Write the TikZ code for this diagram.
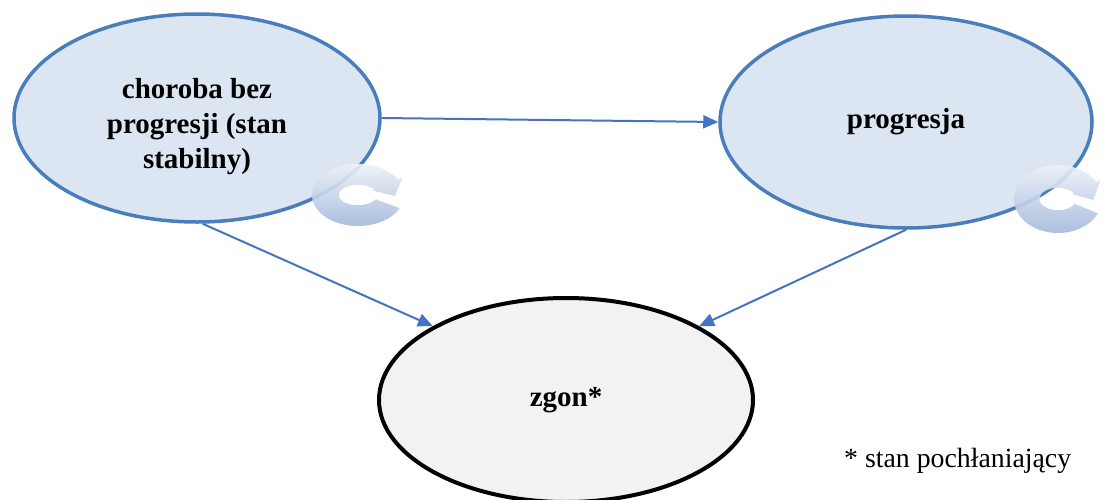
\documentclass[tikz,border=0pt]{standalone}
\usepackage{fontspec}
\setmainfont{Liberation Serif}
\usetikzlibrary{shapes.geometric,arrows.meta}

\definecolor{stateblue}{HTML}{DCE6F2}
\definecolor{stateedge}{HTML}{4A7EBB}
\definecolor{linkblue}{HTML}{4472C4}
\definecolor{absorbfill}{HTML}{F2F2F2}
\definecolor{ringlight}{HTML}{F2F5FA}
\definecolor{ringdark}{HTML}{9DB4D8}

\tikzset{
  state/.style={ellipse, draw=stateedge, line width=3.5pt, fill=stateblue,
    inner sep=0pt, minimum width=366pt, minimum height=208pt,
    font=\fontsize{29}{35}\selectfont\bfseries, align=center},
  absorbing/.style={state, draw=black, line width=4pt, fill=absorbfill,
    minimum width=374pt, minimum height=204pt},
  statetext/.style={font=\fontsize{29}{35}\selectfont\bfseries, align=center, inner sep=0pt},
  link/.style={draw=linkblue, line width=2pt,
    -{Triangle[length=15pt,width=13pt]}},
  note/.style={font=\fontsize{27.8}{33}\selectfont, inner sep=0pt},
  cycle icon/.pic={
    \shade[top color=ringlight, bottom color=ringdark, opacity=0.9]
      (25:1) arc[start angle=25, end angle=330, radius=1]
      -- (330:1.12) -- (2:0.8) -- (330:0.35 and 0.3)
      -- (330:0.42 and 0.33)
      arc[start angle=330, end angle=25, x radius=0.42, y radius=0.33]
      -- cycle;
  }
}

\begin{document}
\begin{tikzpicture}[x=1pt, y=-1pt]
  \useasboundingbox (0,0) rectangle (1104,499);
  \clip (0,0) rectangle (1104,499);

  % states
  \node[state] (L) at (197,118) {};
  \node[statetext] (Ltext) at (197,127) {choroba bez\\progresji (stan\\stabilny)};
  \node[state, minimum width=372pt, minimum height=212pt] (R) at (906,122) {progresja};
  \node[absorbing] (Z) at (566,400) {zgon*};

  % self-loop markers
  \pic[xscale=46, yscale=31] at (358,195) {cycle icon};
  \pic[xscale=44, yscale=34] at (1058,199) {cycle icon};

  % transitions
  \draw[link] (L.east) -- (R.west);
  \draw[link] (L.-87) -- (Z.151);
  \draw[link] (R.south) -- (Z.29);

  % footnote
  \node[note, anchor=base west] (fn) at (844,467) {* stan pochłaniający};
\end{tikzpicture}
\end{document}
